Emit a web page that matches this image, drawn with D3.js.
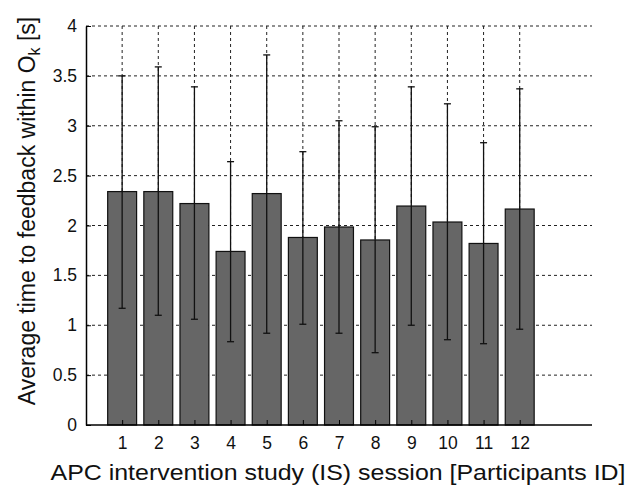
<!DOCTYPE html>
<html>
<head>
<meta charset="utf-8">
<script src="https://cdn.jsdelivr.net/npm/d3@7"></script>
<style>
body { margin: 0; background: #fff; }
text { font-family: "Liberation Sans", Arial, sans-serif; }
</style>
</head>
<body>
<div id="visualization"></div>
<script>
const sessions = [1, 2, 3, 4, 5, 6, 7, 8, 9, 10, 11, 12];
const means = [2.34, 2.34, 2.22, 1.74, 2.32, 1.88, 1.985, 1.855, 2.195, 2.035, 1.82, 2.165];
const errLow = [1.17, 1.10, 1.06, 0.835, 0.92, 1.01, 0.92, 0.725, 1.00, 0.855, 0.815, 0.96];
const errHigh = [3.50, 3.59, 3.39, 2.64, 3.71, 2.74, 3.05, 2.99, 3.39, 3.22, 2.83, 3.37];
const yTicks = [0, 0.5, 1, 1.5, 2, 2.5, 3, 3.5, 4];

const margin = {top: 26, right: 36, bottom: 61, left: 86};
const W = 628, H = 486;
const width = W - margin.left - margin.right;
const height = H - margin.top - margin.bottom;

const data = sessions.map((s, i) => ({s: s, m: means[i], lo: errLow[i], hi: errHigh[i]}));

const svg = d3.select("#visualization")
    .append("svg")
    .attr("width", W)
    .attr("height", H)
    .append("g")
    .attr("transform", "translate(" + margin.left + "," + margin.top + ")");

const x = d3.scaleLinear().domain([0, 14]).range([0, width]);
const y = d3.scaleLinear().domain([0, 4]).range([height, 0]);
const bw = (x(1) - x(0)) * 0.8;

// grid
svg.append("g").selectAll("line")
    .data(yTicks.filter(d => d > 0))
    .enter().append("line")
    .attr("x1", 0).attr("x2", width)
    .attr("y1", d => y(d)).attr("y2", d => y(d))
    .style("stroke", "#222").style("stroke-width", 1)
    .style("stroke-dasharray", "3,3");

svg.append("g").selectAll("line")
    .data(sessions)
    .enter().append("line")
    .attr("x1", d => x(d)).attr("x2", d => x(d))
    .attr("y1", 0).attr("y2", height)
    .style("stroke", "#222").style("stroke-width", 1)
    .style("stroke-dasharray", "3,3");

// bars
svg.selectAll(".bar")
    .data(data)
    .enter().append("rect")
    .attr("class", "bar")
    .attr("x", d => x(d.s) - bw / 2)
    .attr("width", bw)
    .attr("y", d => y(d.m))
    .attr("height", d => height - y(d.m))
    .style("fill", "#666666")
    .style("stroke", "#111")
    .style("stroke-width", 1.2);

// error bars
const eb = svg.append("g").selectAll("g")
    .data(data)
    .enter().append("g")
    .style("stroke", "#111")
    .style("stroke-width", 1.3);

eb.append("line")
    .attr("x1", d => x(d.s)).attr("x2", d => x(d.s))
    .attr("y1", d => y(d.lo)).attr("y2", d => y(d.hi));
eb.append("line")
    .attr("x1", d => x(d.s) - 3.5).attr("x2", d => x(d.s) + 3.5)
    .attr("y1", d => y(d.hi)).attr("y2", d => y(d.hi));
eb.append("line")
    .attr("x1", d => x(d.s) - 3.5).attr("x2", d => x(d.s) + 3.5)
    .attr("y1", d => y(d.lo)).attr("y2", d => y(d.lo));

// axes
const xAxis = svg.append("g")
    .attr("transform", `translate(0, ${height})`)
    .call(d3.axisBottom(x).tickValues(sessions).tickSizeInner(-5).tickSizeOuter(0).tickPadding(12));
const yAxis = svg.append("g")
    .call(d3.axisLeft(y).tickValues(yTicks).tickFormat(d3.format("")).tickSizeInner(-5).tickSizeOuter(0).tickPadding(9));

[xAxis, yAxis].forEach(a => {
    a.select(".domain").style("stroke", "#000").style("stroke-width", 1.5);
    a.selectAll(".tick line").style("stroke", "#000");
    a.selectAll("text").style("font-size", "17.5px").style("fill", "#111")
        .style("font-family", "'Liberation Sans', Arial, sans-serif");
});
xAxis.select(".domain").attr("d", `M0,0H${width}`);

// labels
svg.append("text")
    .attr("x", 338 - margin.left)
    .attr("y", height + 55)
    .attr("text-anchor", "middle")
    .attr("textLength", 575)
    .attr("lengthAdjust", "spacingAndGlyphs")
    .style("font-size", "22px")
    .style("fill", "#111")
    .text("APC intervention study (IS) session [Participants ID]");

const yl = svg.append("text")
    .attr("transform", `translate(${35 - margin.left}, ${211 - margin.top}) rotate(-90)`)
    .attr("text-anchor", "middle")
    .style("font-size", "23px")
    .style("fill", "#111");
yl.append("tspan").text("Average time to feedback within O");
yl.append("tspan").attr("dy", 5).style("font-size", "16px").text("k");
yl.append("tspan").attr("dy", -5).text(" [s]");
</script>
</body>
</html>
